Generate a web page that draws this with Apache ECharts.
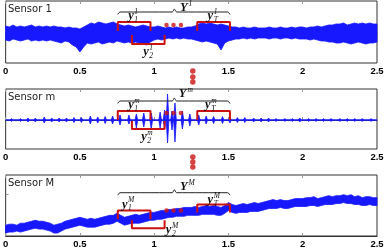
<!DOCTYPE html>
<html><head><meta charset="utf-8">
<script src="https://cdn.jsdelivr.net/npm/echarts@6/dist/echarts.min.js"></script>
<style>html,body{margin:0;padding:0;background:#fff}#c{width:388px;height:249px}</style>
</head><body><div id="c"></div>
<script>
// ---- data (time in s, amplitudes in panel units) ----
const xTicks = [0, 0.5, 1, 1.5, 2, 2.5];
const tStep = 0.025;
// Sensor 1: upper / lower envelope of the noisy signal
const upper1 = [7,6,8,6,7,6,7,8,6,7, 6,7,6,7,6,6,5,6,5,5, 4,6,8,10,9,11,10,9,10,11, 9,8,7,8,7,6,7,8,7,6,
  6,7,6,5,6,5,6,5,5,6, 6,7,9,10,9,10,9,8,9,8, 7,6,6,5,6,5,5,6,5,5, 5,6,5,5,6,5,5,6,5,6,
  6,5,6,6,7,6,7,8,8,9, 9,10,8,9,10,9,10,9,10,9, 9];
const lower1 = [-7,-8,-6,-7,-8,-7,-6,-8,-7,-8, -7,-8,-7,-8,-9,-10,-8,-9,-12,-14, -19,-14,-10,-11,-10,-9,-11,-10,-9,-10,
  -8,-9,-10,-9,-10,-9,-10,-11,-12,-9, -7,-6,-7,-6,-5,-6,-5,-6,-5,-6, -6,-7,-8,-9,-8,-9,-10,-11,-17,-10,
  -8,-7,-6,-6,-5,-6,-5,-6,-5,-5, -5,-6,-5,-5,-6,-5,-5,-6,-5,-6, -6,-6,-7,-6,-7,-8,-8,-9,-9,-10,
  -10,-9,-10,-11,-10,-9,-10,-11,-10,-10, -9];
// Sensor m: burst times and amplitudes
const burstT = [0.04,0.10,0.15,0.20,0.26,0.31,0.36,0.41,0.46,0.51,0.57,0.62,0.67,0.72,0.77,0.83,0.88,0.93,0.98,1.04,
  1.07,1.09,1.12,1.14,1.19,1.24,1.30,1.35,1.40,1.46,1.51,1.56,1.61,1.67,1.72,1.77,1.82,1.88,1.93,1.98,2.04,2.09,2.14,2.19,2.25,2.30,2.35,2.40,2.46];
const burstUp = [1.5,1.5,2,2,3,2,2,2,2.5,2.5,4,3,3.5,4,5,5,6,7,7,8, 10,26,9,17,9,6,5,4,3.5,3.5,3,2.5,2.5,2,2,2,1.5,1.5,1.5,2,1.5,1.5,1.5,1.5,1.5,1.5,1.5,1.5,1.5];
const burstDown = [1.5,1.5,2,2,3,2,2,2,2.5,2.5,4,3,3.5,4,5,4,8,7,9,8, 9,23,10,22,9,6,5,4,3.5,3.5,3,2.5,2.5,2,2,2,1.5,1.5,1.5,2,1.5,1.5,1.5,1.5,1.5,1.5,1.5,1.5,1.5];
// Sensor M: upper / lower envelope of the drifting signal
const upper3 = [11,12,12,11,13,13,14,15,16,15, 15,14,13,11,12,13,15,16,17,18, 19,18,17,18,17,18,19,20,21,21,
  23,21,19,20,21,22,21,22,23,24, 24,25,26,26,27,27,28,28,29,29, 29,30,29,30,31,30,31,30,29,31,
  34,32,31,32,33,32,33,34,33,34, 35,36,37,36,37,36,36,37,38,38, 38,39,39,40,38,39,40,41,40,41,
  41,42,41,42,40,41,39,40,40,39, 39];
const lower3 = [3,4,4,5,4,5,6,7,8,7, 7,6,5,3,3,5,7,8,9,10, 11,10,9,9,9,10,11,12,12,13,
  15,13,11,12,13,13,13,14,15,16, 16,17,17,18,19,19,20,20,20,21, 21,21,21,22,22,22,22,21,21,23,
  26,24,23,24,24,24,25,25,25,26, 27,28,28,28,29,28,28,29,30,30, 30,30,31,31,30,31,32,32,32,33,
  33,34,33,33,32,32,31,31,32,31, 31];
const panelNames = ['Sensor 1', 'Sensor m', 'Sensor M'];
const panelSup = ['1', 'm', 'M'];
const windowT = [[0.755, 0.975], [0.85, 1.07], [1.29, 1.51]];
const windowSub = ['1', '2', 'T'];
const braceT = [0.755, 1.136, 1.51];
const dotsT = [1.083, 1.13, 1.18];

// ---- layout / annotation placement (panel units) ----
const yRange = [[-30, 32], [-29, 31], [0, 62]];
const ann = [
  {brace: 21, Y: [1.225, 25], win: [[11, 2], [-11, -2], [11, 2]], lab: [[0.862, 17], [0.963, -19], [1.397, 17]], dots: 8, vdots: [-38, -44, -49]},
  {brace: 19, Y: [1.217, 26], win: [[9, 0], [-9, -1], [9, 0]], lab: [[0.862, 15], [0.95, -17], [1.38, 15]], dots: 7, vdots: [-37, -42, -47]},
  {brace: 44, Y: [1.225, 50], win: [[26, 17], [8, 16], [32, 24]], lab: [[0.82, 32], [1.116, 6], [1.397, 37]], dots: 26}
];

const BLUE = '#1818ff', RED = '#cc1111';

// band polygon (upper edge forward, lower edge backward) drawn through the axes
function bandSeries(g, up, lo) {
  return {type: 'custom', xAxisIndex: g, yAxisIndex: g, animation: false, silent: true, z: 2,
    data: up.map((v, i) => [i * tStep, v, lo[i]]),
    renderItem: function (params, api) {
      if (params.dataIndex !== 0) return null;
      const pts = [];
      for (let i = 0; i < up.length; i++) pts.push(api.coord([i * tStep, up[i]]));
      for (let i = lo.length - 1; i >= 0; i--) pts.push(api.coord([i * tStep, lo[i]]));
      return {type: 'polygon', shape: {points: pts}, style: {fill: BLUE, stroke: BLUE, lineWidth: 0.8}};
    }};
}
function burstSeries(g) {
  return {type: 'custom', xAxisIndex: g, yAxisIndex: g, animation: false, silent: true, z: 2,
    data: burstT.map((t, i) => [t, burstUp[i], burstDown[i]]),
    renderItem: function (params, api) {
      const t = api.value(0), u = api.value(1), d = api.value(2);
      const pts = [api.coord([t - 0.009, 0]), api.coord([t, u]), api.coord([t + 0.009, 0]), api.coord([t, -d])];
      return {type: 'polygon', shape: {points: pts}, style: {fill: BLUE, stroke: BLUE, lineWidth: 0.8}};
    }};
}

const grids = [
  {left: 3, top: 1, width: 374, height: 62},
  {left: 3, top: 89, width: 374, height: 60},
  {left: 3, top: 175, width: 374, height: 62}
].map(g => Object.assign(g, {show: true, borderColor: '#333', borderWidth: 1, backgroundColor: '#fff'}));

const xAxes = [], yAxes = [];
for (let g = 0; g < 3; g++) {
  xAxes.push({type: 'value', gridIndex: g, min: 0, max: 2.5, interval: 0.5, position: 'bottom',
    axisLine: {show: true, lineStyle: {color: '#333'}}, splitLine: {show: false},
    axisTick: {show: true, inside: true, length: 3, lineStyle: {color: '#999'}},
    axisLabel: {show: true, margin: 3, color: '#000', fontFamily: 'Liberation Sans', fontWeight: 'bold', fontSize: 9.5,
      formatter: v => String(v), hideOverlap: false, showMinLabel: true, showMaxLabel: true}});
}
for (let g = 0; g < 3; g++) {
  xAxes.push({type: 'value', gridIndex: g, min: 0, max: 2.5, interval: 0.5, position: 'top',
    axisLine: {show: false}, splitLine: {show: false}, axisLabel: {show: false},
    axisTick: {show: true, inside: true, length: 3, lineStyle: {color: '#999'}}});
}
for (let g = 0; g < 3; g++) {
  yAxes.push({type: 'value', gridIndex: g, min: yRange[g][0], max: yRange[g][1],
    axisLine: {show: false}, splitLine: {show: false}, axisLabel: {show: false},
    axisTick: g === 2 ? {show: true, inside: true, length: 3, customValues: [11, 42], lineStyle: {color: '#999'}} : {show: false}});
}

const series = [];
const lineBase = {type: 'line', showSymbol: false, symbol: 'none', animation: false, silent: true};
series.push(bandSeries(0, upper1, lower1));
series.push(Object.assign({}, lineBase, {xAxisIndex: 1, yAxisIndex: 1, data: [[0, 0], [2.5, 0]], lineStyle: {color: BLUE, width: 1.5}}));
series.push(burstSeries(1));
series.push(bandSeries(2, upper3, lower3));

for (let g = 0; g < 3; g++) {
  const a = ann[g], b = a.brace;
  series.push(Object.assign({}, lineBase, {xAxisIndex: g, yAxisIndex: g, z: 5, smooth: 0.3,
    data: [[braceT[0], b - 2.5], [braceT[0] + 0.015, b], [braceT[1] - 0.015, b], [braceT[1], b + 3], [braceT[1] + 0.015, b], [braceT[2] - 0.015, b], [braceT[2], b - 2.5]],
    lineStyle: {color: '#222', width: 1}}));
  for (let w = 0; w < 3; w++) {
    const [t0, t1] = windowT[w], [edge, leg] = a.win[w];
    series.push(Object.assign({}, lineBase, {xAxisIndex: g, yAxisIndex: g, z: 6,
      data: [[t0, leg], [t0, edge], [t1, edge], [t1, leg]], lineStyle: {color: RED, width: 2}}));
  }
  series.push({type: 'scatter', xAxisIndex: g, yAxisIndex: g, z: 7, animation: false, symbolSize: 4.5, itemStyle: {color: RED},
    data: dotsT.map(t => [t, a.dots])});
  if (a.vdots) {
    series.push({type: 'scatter', xAxisIndex: g, yAxisIndex: g, z: 7, clip: false, animation: false, symbolSize: 5.5, itemStyle: {color: RED},
      data: a.vdots.map(v => [1.26, v])});
  }
}

const chart = echarts.init(document.getElementById('c'), null, {renderer: 'canvas'});
chart.setOption({animation: false, grid: grids, xAxis: xAxes, yAxis: yAxes, series: series});

const gfx = [];
const MAIN = 'italic bold 12.5px "Liberation Serif"';
const SCR = 'italic 7.5px "Liberation Serif"';
for (let g = 0; g < 3; g++) {
  const a = ann[g];
  const top = grids[g].top;
  gfx.push({type: 'text', left: 8, top: top + 3, z: 20, style: {text: panelNames[g], font: '10px "DejaVu Sans"', fill: '#222'}});
  let p = chart.convertToPixel({gridIndex: g}, a.Y);
  gfx.push({type: 'text', z: 20, style: {text: 'Y', x: p[0], y: p[1], align: 'right', verticalAlign: 'middle', font: MAIN, fill: '#111'}});
  gfx.push({type: 'text', z: 20, style: {text: panelSup[g], x: p[0] + 1, y: p[1] - 4, align: 'left', verticalAlign: 'middle', font: SCR, fill: '#111'}});
  for (let w = 0; w < 3; w++) {
    p = chart.convertToPixel({gridIndex: g}, a.lab[w]);
    gfx.push({type: 'text', z: 20, style: {text: 'y', x: p[0], y: p[1], align: 'right', verticalAlign: 'middle', font: MAIN, fill: '#111'}});
    gfx.push({type: 'text', z: 20, style: {text: panelSup[g], x: p[0] + 0.5, y: p[1] - 4, align: 'left', verticalAlign: 'middle', font: SCR, fill: '#111'}});
    gfx.push({type: 'text', z: 20, style: {text: windowSub[w], x: p[0] + 0.5, y: p[1] + 4, align: 'left', verticalAlign: 'middle', font: SCR, fill: '#111'}});
  }
}
chart.setOption({graphic: gfx});
</script></body></html>
